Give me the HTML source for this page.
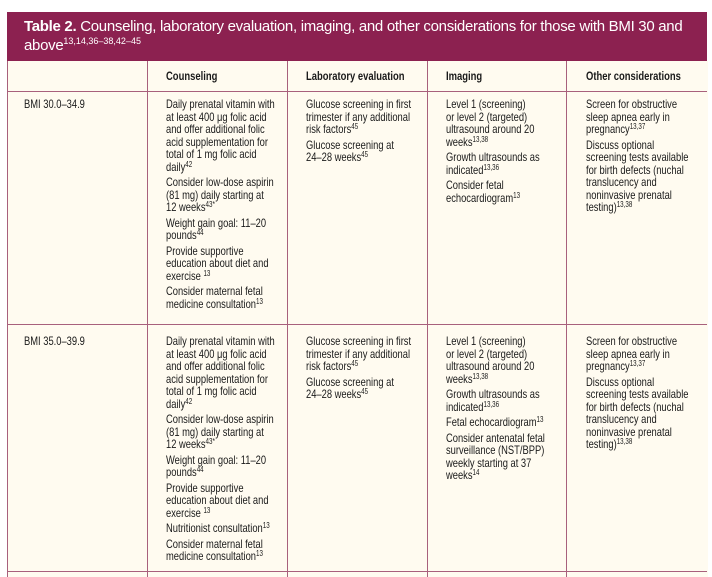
<!DOCTYPE html>
<html><head><meta charset="utf-8"><style>
body{margin:0;width:712px;height:577px;background:#fff;position:relative;overflow:hidden;font-family:"Liberation Sans",sans-serif;color:#1a1a1a}
.band{position:absolute;left:7px;top:12px;width:700px;height:49px;background:#8c2150;color:#fff;font-size:15px;letter-spacing:-0.3px;line-height:19px;padding:5px 0 0 17px;box-sizing:border-box}
.band sup{font-size:9px;vertical-align:6px;line-height:0;letter-spacing:0}
.tbl{position:absolute;left:7px;top:61px;width:700px;height:516px;background:#fffbf0;border-left:1px solid #a8607c}
.v{position:absolute;top:61px;width:1px;height:516px;background:#a8607c}
.h{position:absolute;left:7px;width:700px;height:1px;background:#a8607c}
.hd{position:absolute;top:71px;font-weight:bold;font-size:11.5px;white-space:nowrap;transform:scaleX(0.82);transform-origin:left top}
.c{position:absolute;font-size:12px;line-height:12.5px;white-space:nowrap;transform:scaleX(0.78);transform-origin:left top}
.c p{margin:0 0 3px 0}
sup{font-size:8px;vertical-align:4px;line-height:0}
</style></head><body>
<div class="band"><b>Table 2.</b> Counseling, laboratory evaluation, imaging, and other considerations for those with BMI 30 and above<sup>13,14,36–38,42–45</sup></div>
<div class="tbl"></div>
<div class="v" style="left:147px"></div><div class="v" style="left:287px"></div><div class="v" style="left:427px"></div><div class="v" style="left:566px"></div>
<div class="h" style="top:91px"></div><div class="h" style="top:324px"></div><div class="h" style="top:571px"></div>
<div class="hd" style="left:166px">Counseling</div>
<div class="hd" style="left:306px">Laboratory evaluation</div>
<div class="hd" style="left:446px">Imaging</div>
<div class="hd" style="left:586px">Other considerations</div>

<div class="c" style="left:24px;top:98px">BMI 30.0–34.9</div>
<div class="c" style="left:166px;top:98px"><p>Daily prenatal vitamin with<br>at least 400 μg folic acid<br>and offer additional folic<br>acid supplementation for<br>total of 1 mg folic acid<br>daily<sup>42</sup></p><p>Consider low-dose aspirin<br>(81 mg) daily starting at<br>12 weeks<sup>43*</sup></p><p>Weight gain goal: 11–20<br>pounds<sup>44</sup></p><p>Provide supportive<br>education about diet and<br>exercise <sup>13</sup></p><p>Consider maternal fetal<br>medicine consultation<sup>13</sup></p></div>
<div class="c" style="left:306px;top:98px"><p>Glucose screening in first<br>trimester if any additional<br>risk factors<sup>45</sup></p><p>Glucose screening at<br>24–28 weeks<sup>45</sup></p></div>
<div class="c" style="left:446px;top:98px"><p>Level 1 (screening)<br>or level 2 (targeted)<br>ultrasound around 20<br>weeks<sup>13,38</sup></p><p>Growth ultrasounds as<br>indicated<sup>13,36</sup></p><p>Consider fetal<br>echocardiogram<sup>13</sup></p></div>
<div class="c" style="left:586px;top:98px"><p>Screen for obstructive<br>sleep apnea early in<br>pregnancy<sup>13,37</sup></p><p>Discuss optional<br>screening tests available<br>for birth defects (nuchal<br>translucency and<br>noninvasive prenatal<br>testing)<sup>13,38</sup></p></div>

<div class="c" style="left:24px;top:335px">BMI 35.0–39.9</div>
<div class="c" style="left:166px;top:335px"><p>Daily prenatal vitamin with<br>at least 400 μg folic acid<br>and offer additional folic<br>acid supplementation for<br>total of 1 mg folic acid<br>daily<sup>42</sup></p><p>Consider low-dose aspirin<br>(81 mg) daily starting at<br>12 weeks<sup>43*</sup></p><p>Weight gain goal: 11–20<br>pounds<sup>44</sup></p><p>Provide supportive<br>education about diet and<br>exercise <sup>13</sup></p><p>Nutritionist consultation<sup>13</sup></p><p>Consider maternal fetal<br>medicine consultation<sup>13</sup></p></div>
<div class="c" style="left:306px;top:335px"><p>Glucose screening in first<br>trimester if any additional<br>risk factors<sup>45</sup></p><p>Glucose screening at<br>24–28 weeks<sup>45</sup></p></div>
<div class="c" style="left:446px;top:335px"><p>Level 1 (screening)<br>or level 2 (targeted)<br>ultrasound around 20<br>weeks<sup>13,38</sup></p><p>Growth ultrasounds as<br>indicated<sup>13,36</sup></p><p>Fetal echocardiogram<sup>13</sup></p><p>Consider antenatal fetal<br>surveillance (NST/BPP)<br>weekly starting at 37<br>weeks<sup>14</sup></p></div>
<div class="c" style="left:586px;top:335px"><p>Screen for obstructive<br>sleep apnea early in<br>pregnancy<sup>13,37</sup></p><p>Discuss optional<br>screening tests available<br>for birth defects (nuchal<br>translucency and<br>noninvasive prenatal<br>testing)<sup>13,38</sup></p></div>
</body></html>
